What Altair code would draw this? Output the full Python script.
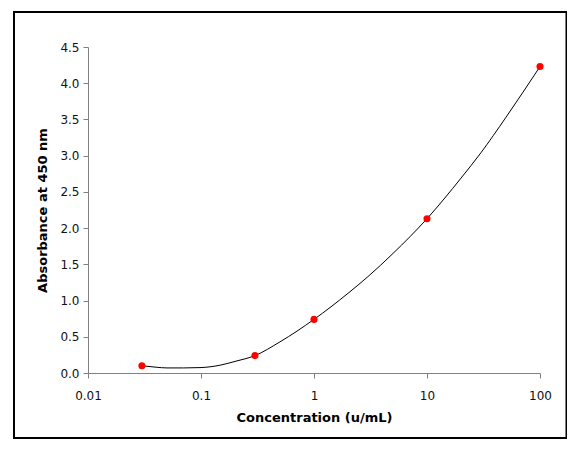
import altair as alt
import pandas as pd

# measured standards
conc = [0.03, 0.3, 1, 10, 100]
absorb = [0.10, 0.24, 0.74, 2.13, 4.23]

# fitted curve
curve_x = [0.03, 0.04, 0.05, 0.07, 0.1, 0.15, 0.2, 0.3, 0.5, 1, 2, 3, 5, 10, 20, 30, 50, 100]
curve_y = [0.10, 0.08, 0.07, 0.07, 0.075, 0.11, 0.16, 0.24, 0.43, 0.74, 1.10, 1.33, 1.65, 2.13, 2.69, 3.04, 3.53, 4.23]

x_ticks = [0.01, 0.1, 1, 10, 100]
y_ticks = [0, 0.5, 1.0, 1.5, 2.0, 2.5, 3.0, 3.5, 4.0, 4.5]

pts = pd.DataFrame({"conc": conc, "abs": absorb})
fit = pd.DataFrame({"conc": curve_x, "abs": curve_y})

x_enc = alt.X("conc:Q", scale=alt.Scale(type="log", domain=[0.01, 100]),
              axis=alt.Axis(values=x_ticks, format="~g", title="Concentration (u/mL)"))
y_enc = alt.Y("abs:Q", scale=alt.Scale(domain=[0, 4.5], nice=False),
              axis=alt.Axis(values=y_ticks, format=".1f", title="Absorbance at 450 nm",
                            labelOverlap=False))

line = alt.Chart(fit).mark_line(color="black", strokeWidth=1, interpolate="monotone").encode(
    x=x_enc, y=y_enc
)

dots = alt.Chart(pts).mark_circle(color="#ff0000", size=50, opacity=1).encode(
    x=x_enc, y=y_enc
)

# frame around the whole figure
frame = alt.Chart(pts).mark_rect(filled=False, stroke="black", strokeWidth=2, clip=False).encode(
    x=alt.value(-74), x2=alt.value(478.5), y=alt.value(-35), y2=alt.value(391)
).transform_filter("datum.conc == 100")

chart = (frame + line + dots).properties(
    width=452, height=326,
    padding={"left": 80, "top": 39, "right": 27, "bottom": 68},
    autosize=alt.AutoSizeParams(type="none"),
).configure_view(
    stroke=None
).configure_axis(
    grid=False,
    domainColor="#808080",
    tickColor="#808080",
    tickSize=5,
    labelFont="DejaVu Sans",
    labelFontSize=12,
    labelColor="#111111",
    labelPadding=4,
    labelOverlap=False,
    labelFlush=False,
    titleFont="DejaVu Sans",
    titleFontSize=13,
    titleFontWeight="bold",
    titleColor="black",
).configure_axisY(
    titlePadding=10,
).configure_axisX(
    titlePadding=10,
    labelPadding=12,
)

chart.save("out.html", embed_options={"renderer": "svg", "actions": False})
